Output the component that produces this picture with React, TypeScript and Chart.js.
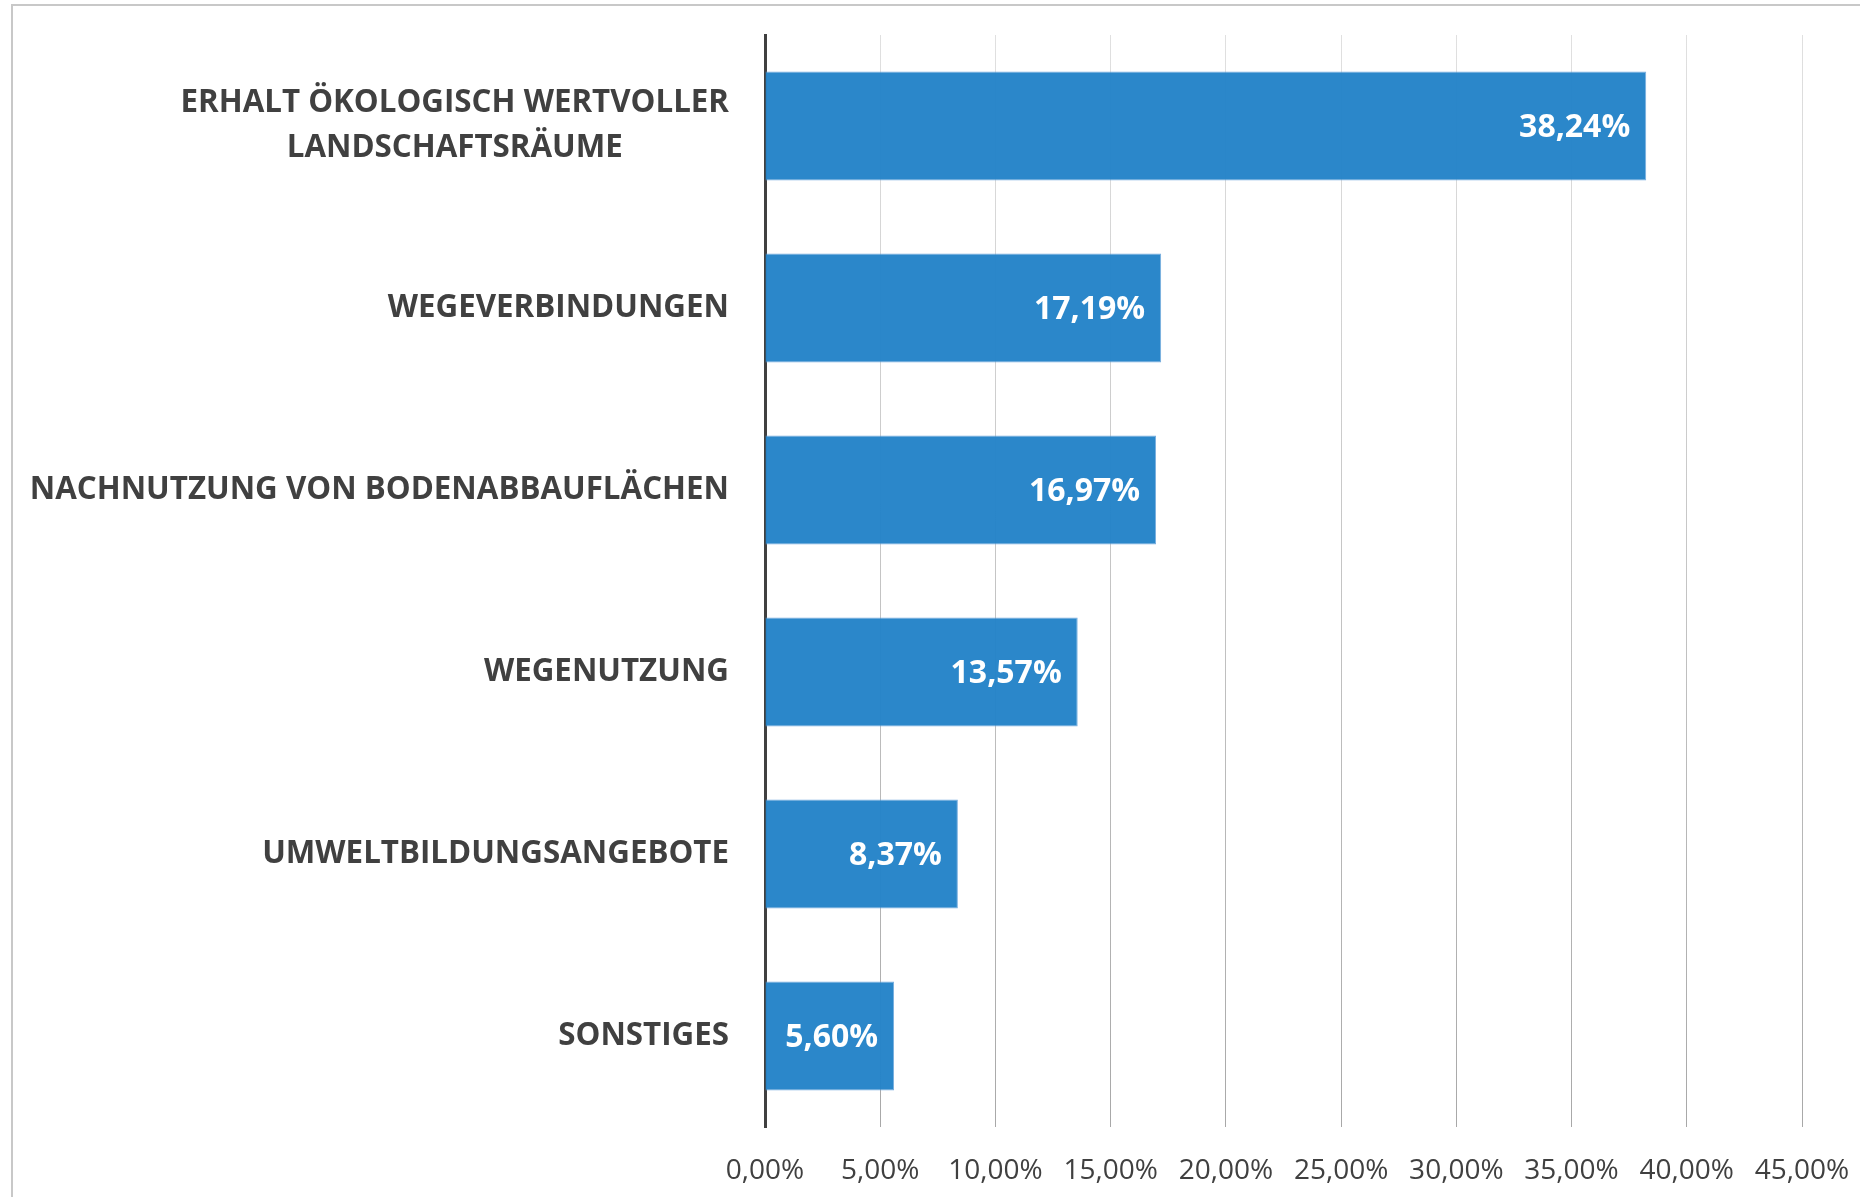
import React, { useEffect, useRef } from "react";
import { Chart, registerables } from "chart.js";

Chart.register(...registerables);

const categories: string[][] = [
  ["ERHALT ÖKOLOGISCH WERTVOLLER", "LANDSCHAFTSRÄUME"],
  ["WEGEVERBINDUNGEN"],
  ["NACHNUTZUNG VON BODENABBAUFLÄCHEN"],
  ["WEGENUTZUNG"],
  ["UMWELTBILDUNGSANGEBOTE"],
  ["SONSTIGES"],
];
const values: number[] = [38.24, 17.19, 16.97, 13.57, 8.37, 5.6];
const axisMax = 45;
const axisStep = 5;

const fmt = (v: number) => v.toFixed(2).replace(".", ",") + "%";

const FONT = "'Open Sans', 'DejaVu Sans', sans-serif";

export default function App() {
  const ref = useRef<HTMLCanvasElement | null>(null);

  useEffect(() => {
    if (!ref.current) return;

    const labelPlugin = {
      id: "customLabels",
      afterDatasetsDraw(chart: any) {
        const ctx = chart.ctx;
        const yScale = chart.scales.y;
        ctx.save();
        // category labels
        ctx.font = `bold 31.3px ${FONT}`;
        ctx.fillStyle = "#404040";
        ctx.textBaseline = "middle";
        ctx.textAlign = "center";
        const rightEdge = 729;
        const lh = 45;
        categories.forEach((lines, i) => {
          const yc = yScale.getPixelForValue(i);
          const w = Math.max(...lines.map((l) => ctx.measureText(l).width));
          const cx = rightEdge - w / 2;
          const y0 = yc - ((lines.length - 1) * lh) / 2;
          lines.forEach((l, j) => ctx.fillText(l, cx, y0 + j * lh));
        });
        // value labels
        const meta = chart.getDatasetMeta(0);
        ctx.font = `bold 32px ${FONT}`;
        ctx.fillStyle = "#ffffff";
        ctx.textAlign = "right";
        meta.data.forEach((bar: any, i: number) => {
          ctx.fillText(fmt(values[i]), bar.x - 16, bar.y + 2);
        });
        ctx.restore();
      },
    };

    const chart = new Chart(ref.current, {
      type: "bar",
      data: {
        labels: categories.map((c) => c.join(" ")),
        datasets: [
          {
            data: values,
            backgroundColor: "rgba(36,131,200,0.97)",
            borderColor: "rgba(105,165,220,0.9)",
            borderWidth: 1,
            barPercentage: 0.6,
            categoryPercentage: 1,
          },
        ],
      },
      options: {
        indexAxis: "y",
        responsive: false,
        animation: false,
        layout: { padding: { top: 35, right: 58, left: 0, bottom: 0 } },
        plugins: {
          legend: { display: false },
          tooltip: { enabled: false },
        },
        scales: {
          y: {
            type: "category",
            grid: { display: false, drawTicks: false },
            border: { display: true, color: "#404040", width: 3 },
            ticks: { display: false },
            afterFit: (scale: any) => {
              scale.width = 765;
              scale.paddingTop = 0;
              scale.paddingBottom = 0;
            },
          },
          x: {
            type: "linear",
            min: 0,
            max: axisMax,
            grid: {
              drawTicks: false,
              lineWidth: 1,
              color: (ctx: any) => {
                if (ctx.index === 0) return "rgba(0,0,0,0)";
                const chart = ctx.chart;
                const area = chart.chartArea;
                if (!area) return "#cfcfcf";
                const g = chart.ctx.createLinearGradient(0, area.top, 0, area.bottom);
                g.addColorStop(0, "#e0e0e0");
                g.addColorStop(1, "#a8a8a8");
                return g;
              },
            },
            border: { display: false },
            ticks: {
              stepSize: axisStep,
              padding: 27,
              color: "#404040",
              font: { family: FONT, size: 28 },
              maxRotation: 0,
              autoSkip: false,
              callback: (v: any) => fmt(Number(v)),
            },
            afterFit: (scale: any) => {
              scale.height = 70;
              scale.paddingLeft = 0;
              scale.paddingRight = 0;
            },
          },
        },
      },
      plugins: [labelPlugin],
    });

    return () => chart.destroy();
  }, []);

  return (
    <div
      style={{
        position: "fixed",
        left: 0,
        top: 0,
        width: 1860,
        height: 1197,
        background: "#ffffff",
        overflow: "hidden",
      }}
    >
      <div
        style={{
          position: "absolute",
          left: 11,
          top: 4,
          width: 2000,
          height: 2000,
          border: "2px solid #c8c8c8",
        }}
      />
      <canvas
        ref={ref}
        width={1860}
        height={1197}
        style={{ position: "absolute", left: 0, top: 0, width: 1860, height: 1197 }}
      />
    </div>
  );
}
